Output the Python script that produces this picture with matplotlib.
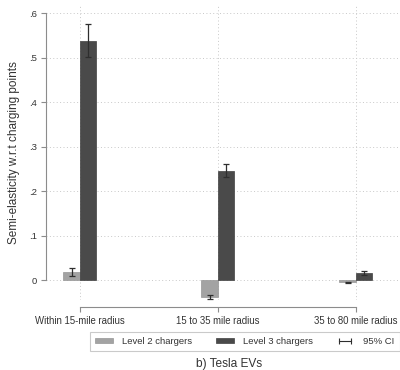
import numpy as np
import matplotlib.pyplot as plt
from matplotlib.patches import Patch
from matplotlib.lines import Line2D

plt.rcParams["font.family"] = ["Liberation Sans", "DejaVu Sans"]

CATEGORIES = ["Within 15-mile radius", "15 to 35 mile radius", "35 to 80 mile radius"]

LEVEL2 = [0.018, -0.039, -0.005]
LEVEL2_LO = [0.009, -0.043, -0.007]
LEVEL2_HI = [0.027, -0.034, -0.004]

LEVEL3 = [0.537, 0.246, 0.016]
LEVEL3_LO = [0.501, 0.231, 0.012]
LEVEL3_HI = [0.575, 0.262, 0.020]

YTICKS = [0, 0.1, 0.2, 0.3, 0.4, 0.5, 0.6]
YTICKLABELS = ["0", ".1", ".2", ".3", ".4", ".5", ".6"]

C_L2 = "#a3a3a3"
C_L3 = "#4a4a4a"
C_AX = "#8c8c8c"
C_TXT = "#333333"


def errs(vals, lo, hi):
    vals, lo, hi = map(np.asarray, (vals, lo, hi))
    return np.vstack([vals - lo, hi - vals])


def main():
    fig = plt.figure(figsize=(4.0, 3.7), dpi=100)
    ax = fig.add_axes([0.115, 0.189, 0.885, 0.799])

    x = np.arange(len(CATEGORIES))
    w = 0.12

    ax.bar(x - w / 2, LEVEL2, w, color=C_L2, edgecolor="#969696", linewidth=0.5, zorder=3)
    ax.bar(x + w / 2, LEVEL3, w, color=C_L3, edgecolor="#404040", linewidth=0.5, zorder=3)

    ekw = dict(fmt="none", ecolor="#2e2e2e", elinewidth=0.9, capsize=2.5, capthick=0.9, zorder=4)
    ax.errorbar(x - w / 2, LEVEL2, yerr=errs(LEVEL2, LEVEL2_LO, LEVEL2_HI), **ekw)
    ax.errorbar(x + w / 2, LEVEL3, yerr=errs(LEVEL3, LEVEL3_LO, LEVEL3_HI), **ekw)

    ax.set_xlim(-0.246, 2.32)
    ax.set_ylim(-0.045, 0.62)

    # dotted grid both ways
    for yv in YTICKS:
        ax.axhline(yv, color="#c8c8c8", linestyle=(0, (1, 2.5)), linewidth=0.7, zorder=1)
    for xv in x:
        ax.axvline(xv, color="#c8c8c8", linestyle=(0, (1, 2.5)), linewidth=0.7, zorder=1)

    for s in ["top", "right"]:
        ax.spines[s].set_visible(False)
    ax.spines["left"].set_bounds(0, 0.6)
    ax.spines["left"].set_color(C_AX)
    ax.spines["left"].set_linewidth(0.8)
    ax.spines["bottom"].set_position(("outward", 5))
    ax.spines["bottom"].set_bounds(0, 2)
    ax.spines["bottom"].set_color(C_AX)
    ax.spines["bottom"].set_linewidth(0.8)

    ax.set_yticks(YTICKS)
    ax.set_yticklabels(YTICKLABELS)
    ax.set_xticks(x)
    ax.set_xticklabels(CATEGORIES)
    ax.tick_params(axis="both", colors=C_AX, labelcolor=C_TXT, length=3.5, width=0.8)
    ax.tick_params(axis="x", labelsize=6.9, pad=3)
    ax.tick_params(axis="y", labelsize=6.8, pad=3)

    ax.set_ylabel("Semi-elasticity w.r.t charging points", fontsize=8.5, color=C_TXT)
    ax.yaxis.set_label_coords(-0.073, 0.5)

    handles = [
        Patch(facecolor=C_L2, edgecolor="#969696", linewidth=0.5),
        Patch(facecolor=C_L3, edgecolor="#404040", linewidth=0.5),
        Line2D([0], [0], color="#2e2e2e", linewidth=0.8, marker="|", markersize=4,
               markeredgewidth=0.8),
    ]
    labels = ["Level 2 chargers", "Level 3 chargers", "95% CI"]
    leg = fig.legend(handles, labels, loc="lower left", ncol=3,
                     bbox_to_anchor=(0.225, 0.0514), borderaxespad=0, fontsize=6.8,
                     frameon=True, fancybox=False, edgecolor="#bdbdbd",
                     handlelength=1.9, handleheight=0.55, handletextpad=0.95,
                     columnspacing=2.5, borderpad=0.55, numpoints=2, labelcolor=C_TXT)
    leg.get_frame().set_linewidth(0.8)

    fig.text(0.5725, 0.016, "b) Tesla EVs", ha="center", va="center", fontsize=8.6, color=C_TXT)

    fig.savefig("out.png", dpi=100)


if __name__ == "__main__":
    main()
